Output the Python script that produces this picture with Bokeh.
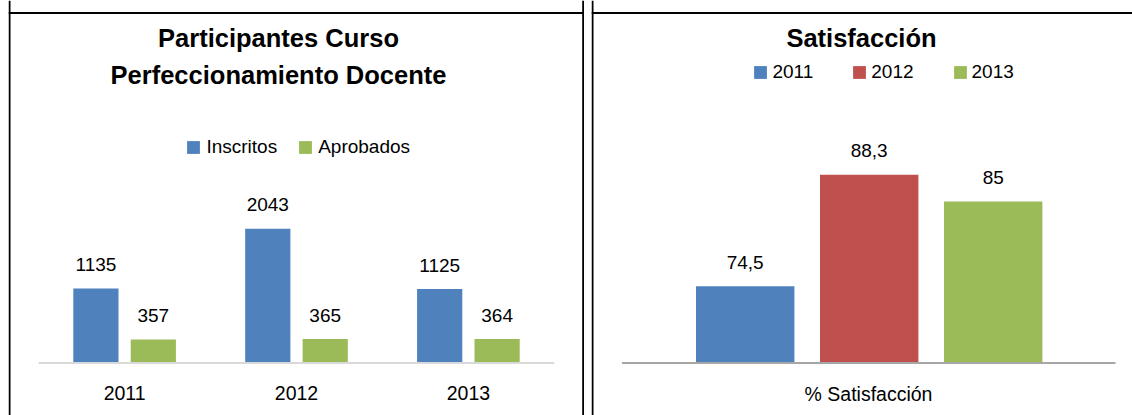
from bokeh.plotting import figure
from bokeh.models import FactorRange, Range1d, ColumnDataSource, Label, Span
from bokeh.transform import dodge
from bokeh.layouts import row
from bokeh.core.properties import value
from bokeh.embed import file_html
from bokeh.resources import INLINE

# ---------------- data ----------------
years = ["2011", "2012", "2013"]
inscritos = [1135, 2043, 1125]
aprobados = [357, 365, 364]
series_names = ["Inscritos", "Aprobados"]
left_title = ["Participantes Curso", "Perfeccionamiento Docente"]

sat_category = ["% Satisfacción"]
sat_years = ["2011", "2012", "2013"]
sat_values = [74.5, 88.3, 85]
right_title = "Satisfacción"

# ---------------- style ----------------
BLUE, RED, GREEN = "#4F81BD", "#C0504D", "#9BBB59"
FONT = "Liberation Sans"
H = 415
W1, W2 = 584, 541
BASE_PX = 52.5          # baseline distance from bottom of canvas
TOP_BORDER = 402.5      # top border, screen px from bottom


def fmt(v):
    return f"{v:g}".replace(".", ",")


def make_fig(width, x_range, y_range, left=0):
    p = figure(width=width, height=H, x_range=x_range, y_range=y_range,
               output_backend="svg", toolbar_location=None, title=None,
               x_axis_location=None, y_axis_location=None, min_border=0,
               min_border_left=left)
    p.grid.visible = False
    p.outline_line_color = None
    p.background_fill_color = "white"
    p.border_fill_color = "white"
    return p


def add_borders(p, xs):
    for x in xs:
        p.add_layout(Span(location=x, location_units="screen", dimension="height",
                          line_color="black", line_width=2))
    p.add_layout(Span(location=TOP_BORDER, location_units="screen", dimension="width",
                      line_color="black", line_width=2))


def style_legend(p, x, y, spacing, standoff):
    lg = p.legend[0]
    lg.location = (x, y)
    lg.orientation = "horizontal"
    lg.glyph_width = 16
    lg.glyph_height = 16
    lg.label_standoff = standoff
    lg.spacing = spacing
    lg.padding = 0
    lg.margin = 0
    lg.border_line_color = None
    lg.background_fill_alpha = 0
    lg.label_text_font = FONT
    lg.label_text_font_size = "19px"
    lg.label_text_color = "black"


def add_title(p, x, y, text):
    p.add_layout(Label(x=x, y=y, x_units="screen", y_units="screen",
                       text=text, text_font=FONT, text_font_size="25.5px",
                       text_font_style="bold", text_align="center",
                       text_baseline="middle", text_color="black"))


txt_kw = dict(text_align="center", text_baseline="middle", text_font=value(FONT),
              text_font_size="19px", text_color="black")
cat_kw = dict(txt_kw, text_font_size="19.5px")

# ================= left chart =================
ppu1 = 0.0657  # px per unit
p1 = make_fig(W1, FactorRange(factors=years, range_padding=0.117),
              Range1d(-BASE_PX / ppu1, (H - BASE_PX) / ppu1), left=8)

src1 = ColumnDataSource(dict(
    years=years, inscritos=inscritos, aprobados=aprobados,
    ins_txt=[fmt(v) for v in inscritos], apr_txt=[fmt(v) for v in aprobados]))

off, bw = 0.167, 0.263
p1.vbar(x=dodge("years", -off, range=p1.x_range), top="inscritos", bottom=0, width=bw,
        source=src1, fill_color=BLUE, line_color=None, legend_label=series_names[0])
p1.vbar(x=dodge("years", off, range=p1.x_range), top="aprobados", bottom=0, width=bw,
        source=src1, fill_color=GREEN, line_color=None, legend_label=series_names[1])

p1.text(x=dodge("years", -off, range=p1.x_range), y="inscritos", text="ins_txt",
        source=src1, y_offset=-24, **txt_kw)
p1.text(x=dodge("years", off, range=p1.x_range), y="aprobados", text="apr_txt",
        source=src1, y_offset=-24, **txt_kw)
# category labels
p1.text(x="years", y=0, text="years", source=src1, y_offset=29.5, **cat_kw)

# axis line
base_src1 = ColumnDataSource(dict(x0=[years[0]], x1=[years[-1]], y=[0]))
p1.segment(x0=dodge("x0", -0.5, range=p1.x_range), y0="y",
           x1=dodge("x1", 0.5, range=p1.x_range), y1="y",
           source=base_src1, line_color="#D9D9D9", line_width=2)

add_title(p1, 270, 377.5, left_title[0])
add_title(p1, 270, 340.8, left_title[1])

style_legend(p1, 177.4, 257.5, 20, 5)
add_borders(p1, [1, 574.7])

# ================= right chart =================
ppu2 = 8.08
y_floor = 65
p2 = make_fig(W2, FactorRange(factors=sat_category),
              Range1d(y_floor - BASE_PX / ppu2, y_floor + (H - BASE_PX) / ppu2))

shift, step, bw2 = 0.0133, 0.2292, 0.1819
colors = [BLUE, RED, GREEN]
for i, (yr, v) in enumerate(zip(sat_years, sat_values)):
    s = ColumnDataSource(dict(cat=sat_category, top=[v], txt=[fmt(v)]))
    o = shift + step * (i - 1)
    p2.vbar(x=dodge("cat", o, range=p2.x_range), top="top", bottom=y_floor, width=bw2,
            source=s, fill_color=colors[i], line_color=None, legend_label=yr)
    p2.text(x=dodge("cat", o, range=p2.x_range), y="top", text="txt", source=s,
            y_offset=-24, **txt_kw)

cat_src = ColumnDataSource(dict(cat=sat_category, y=[y_floor]))
p2.text(x=dodge("cat", 0.012, range=p2.x_range), y="y", text="cat", source=cat_src,
        y_offset=30.5, **cat_kw)
p2.segment(x0=dodge("cat", -0.4436, range=p2.x_range), y0="y",
           x1=dodge("cat", 0.4686, range=p2.x_range), y1="y",
           source=cat_src, line_color="#A6A6A6", line_width=2)

add_title(p2, 270, 378, right_title)

style_legend(p2, 161.4, 332.5, 38, 4)
add_borders(p2, [1])

layout = row(p1, p2, spacing=7)
open("out.html", "w").write(file_html(layout, INLINE))
